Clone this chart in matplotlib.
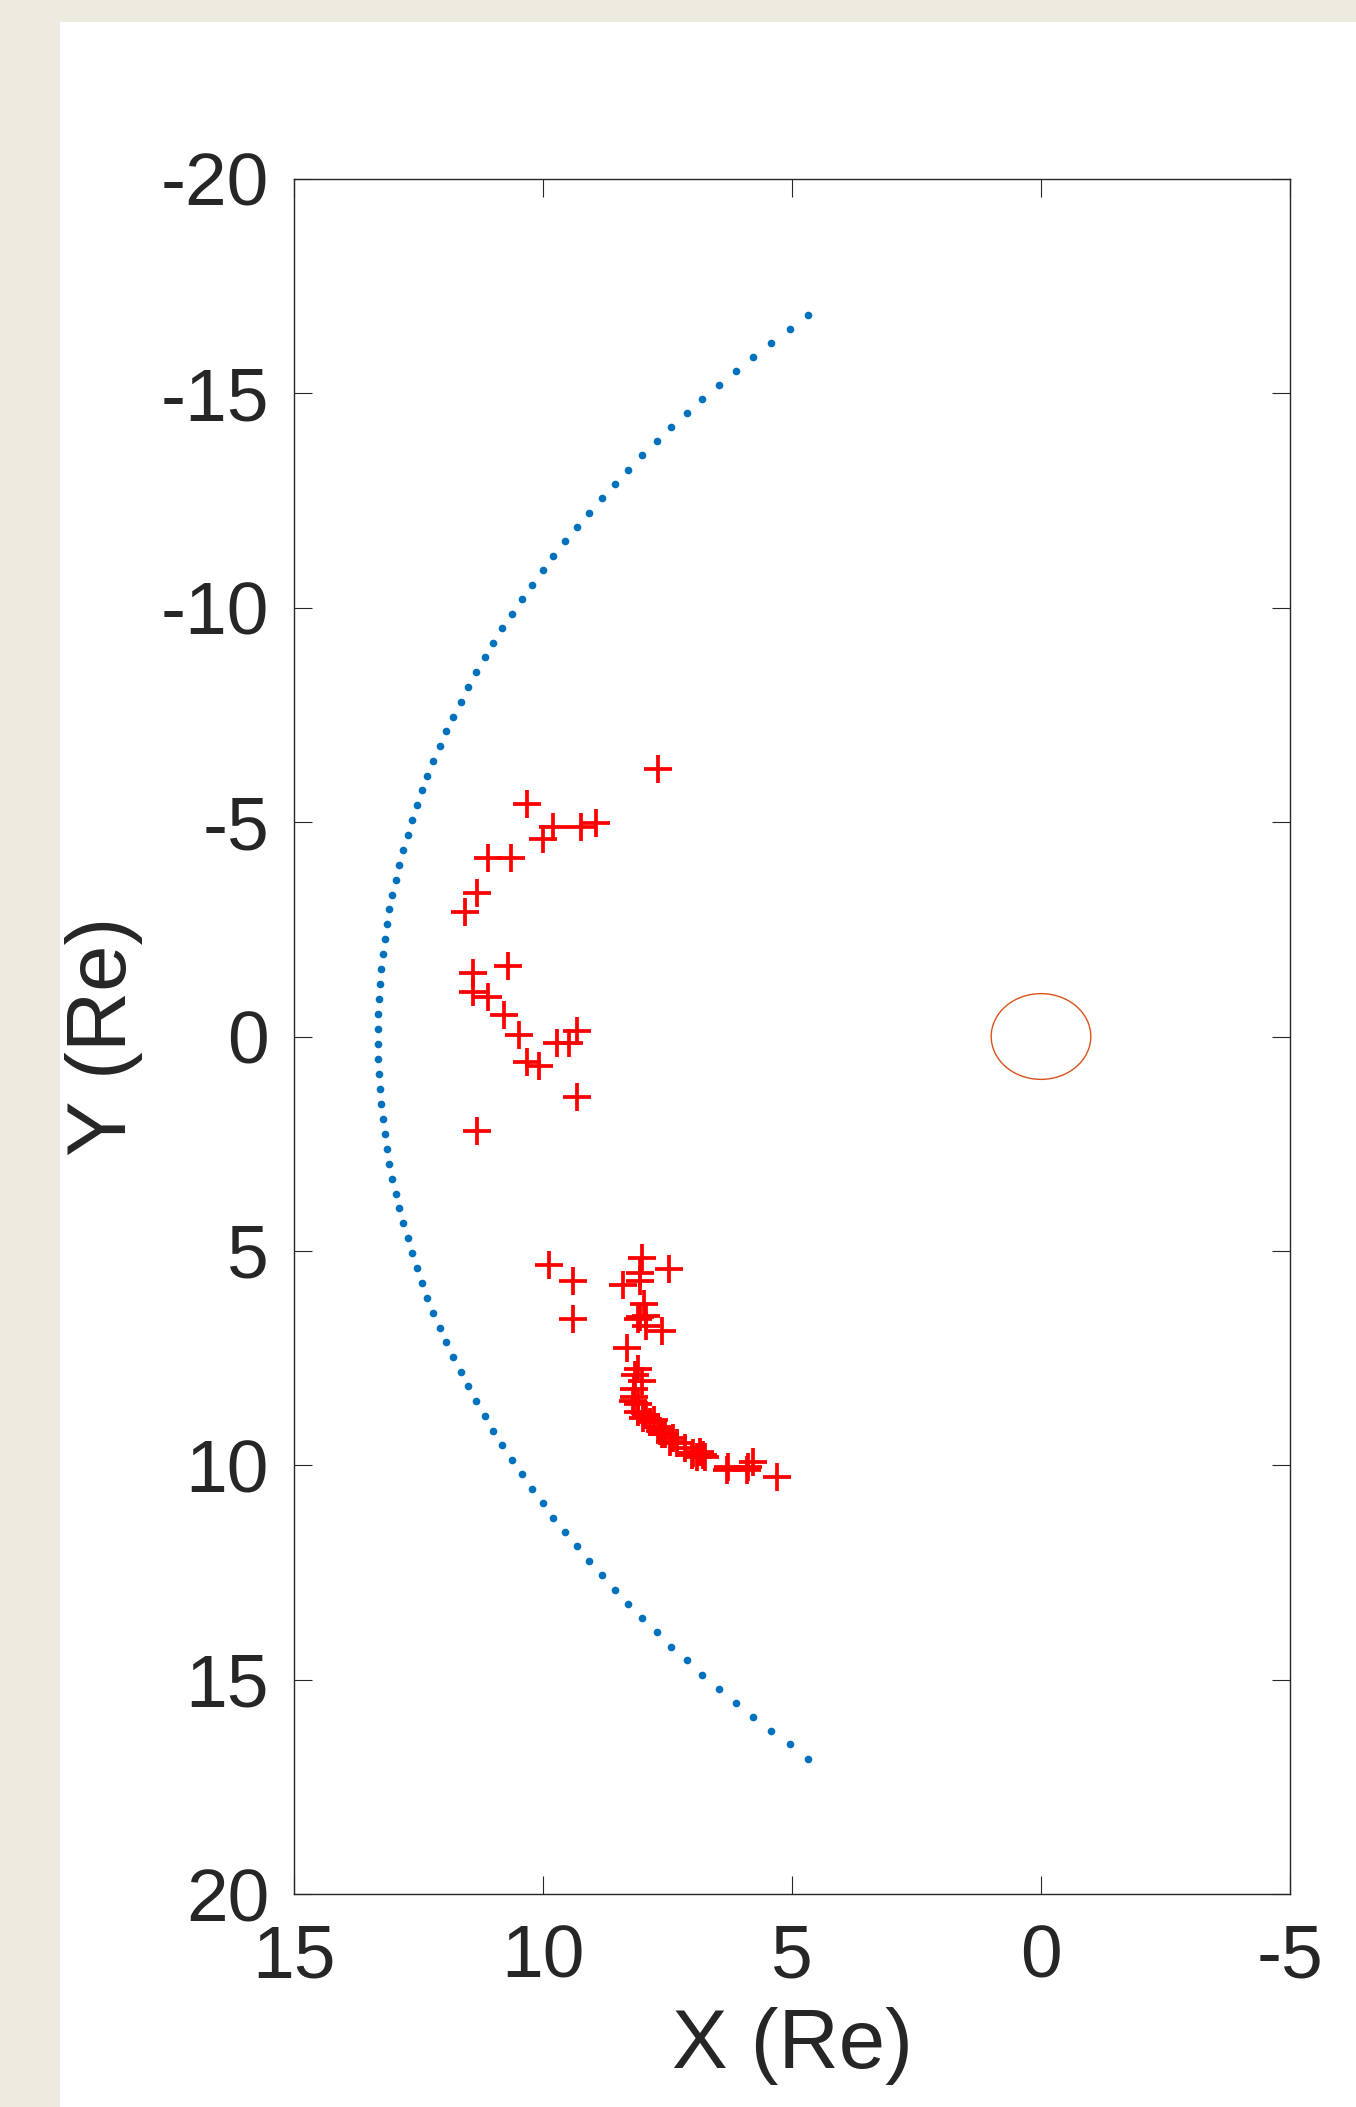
import matplotlib
matplotlib.use("Agg")
import matplotlib.pyplot as plt
from matplotlib.patches import Ellipse, Rectangle

plt.rcParams['font.family'] = ['Liberation Sans', 'DejaVu Sans']

# magnetopause model points (blue dots)
bow_x = [4.68, 5.05, 5.42, 5.78, 6.13, 6.47, 6.80, 7.11, 7.42, 7.72,
         8.01, 8.29, 8.56, 8.82, 9.08, 9.32, 9.56, 9.79, 10.01, 10.22,
         10.43, 10.63, 10.82, 11.00, 11.17, 11.34, 11.50, 11.65, 11.80, 11.94,
         12.07, 12.20, 12.32, 12.43, 12.53, 12.63, 12.72, 12.81, 12.89, 12.96,
         13.03, 13.09, 13.13, 13.18, 13.22, 13.26, 13.28, 13.30, 13.31, 13.32,
         13.32, 13.31, 13.30, 13.28, 13.26, 13.22, 13.18, 13.13, 13.09, 13.03,
         12.96, 12.89, 12.81, 12.72, 12.63, 12.53, 12.43, 12.32, 12.20, 12.07,
         11.94, 11.80, 11.65, 11.50, 11.34, 11.17, 11.00, 10.82, 10.63, 10.43,
         10.22, 10.01, 9.79, 9.56, 9.32, 9.08, 8.82, 8.56, 8.29, 8.01,
         7.72, 7.42, 7.11, 6.80, 6.47, 6.13, 5.78, 5.42, 5.05, 4.68]
bow_y = [-16.83, -16.50, -16.18, -15.86, -15.53, -15.20, -14.88, -14.54, -14.22, -13.89,
         -13.56, -13.22, -12.89, -12.55, -12.22, -11.88, -11.55, -11.21, -10.88, -10.54,
         -10.20, -9.86, -9.52, -9.18, -8.84, -8.49, -8.15, -7.81, -7.46, -7.12,
         -6.78, -6.43, -6.08, -5.74, -5.39, -5.04, -4.70, -4.35, -4.00, -3.66,
         -3.31, -2.97, -2.62, -2.27, -1.92, -1.57, -1.22, -0.87, -0.52, -0.17,
         0.18, 0.53, 0.88, 1.23, 1.58, 1.93, 2.28, 2.63, 2.98, 3.32,
         3.67, 4.01, 4.36, 4.71, 5.05, 5.40, 5.75, 6.09, 6.44, 6.79,
         7.13, 7.47, 7.82, 8.16, 8.50, 8.85, 9.19, 9.53, 9.87, 10.21,
         10.55, 10.89, 11.22, 11.56, 11.89, 12.23, 12.56, 12.90, 13.23, 13.57,
         13.90, 14.23, 14.55, 14.89, 15.21, 15.54, 15.87, 16.19, 16.51, 16.85]

# observed crossings (red +)
cross_x = [7.70, 10.33, 9.79, 10.01, 9.24, 8.94, 11.10, 10.64, 11.33, 11.56,
           10.71, 11.41, 11.41, 11.10, 10.79, 10.48, 9.71, 9.48, 9.32, 10.32,
           10.09, 9.32, 11.33,
           9.87, 9.40, 9.40, 8.01, 7.47, 8.40, 8.05, 8.05, 7.97, 8.05,
           7.93, 8.09, 7.93, 7.62, 8.32, 8.09, 8.01, 8.17, 8.17, 8.09,
           8.09, 7.93, 7.78, 7.70, 7.55, 7.38, 7.31, 6.98, 6.75, 6.28,
           5.88, 5.78, 5.31, 8.15, 8.20, 8.00, 7.85, 7.65, 7.45, 7.15,
           6.90, 6.85, 6.30, 5.90, 7.01, 6.78, 7.62]
cross_y = [-6.23, -5.42, -4.88, -4.61, -4.88, -4.97, -4.16, -4.16, -3.35, -2.90,
           -1.65, -1.47, -1.03, -0.93, -0.49, -0.03, 0.14, 0.14, -0.13, 0.59,
           0.68, 1.40, 2.20,
           5.34, 5.70, 6.60, 5.16, 5.43, 5.80, 5.52, 5.70, 6.24, 6.55,
           6.51, 6.60, 6.76, 6.87, 7.27, 7.76, 8.04, 8.21, 8.40, 8.57,
           8.75, 8.83, 8.94, 9.10, 9.26, 9.37, 9.49, 9.72, 9.80, 10.03,
           10.03, 9.92, 10.27, 7.90, 8.50, 8.90, 9.00, 9.20, 9.45, 9.60,
           9.80, 9.70, 10.12, 10.12, 9.76, 9.76, 9.26]

# earth
earth_x, earth_y, earth_r = 0, 0, 1

xticks = [15, 10, 5, 0, -5]
yticks = [-20, -15, -10, -5, 0, 5, 10, 15, 20]

fig = plt.figure(figsize=(13.56, 21.07), dpi=100, facecolor='#edebe0')
# white slide area behind the axes
fig.patches.append(Rectangle((60 / 1356, 0), 1 - 60 / 1356, 1 - 22 / 2107,
                             transform=fig.transFigure, facecolor='white',
                             edgecolor='none', zorder=-10))

ax = fig.add_axes([294 / 1356, 1 - 1894 / 2107, 996 / 1356, 1715 / 2107])
ax.set_zorder(1)
ax.plot(bow_x, bow_y, 'o', color='#0072bd', markersize=5.5, markeredgewidth=0)
ax.plot(cross_x, cross_y, '+', color='red', markersize=20, markeredgewidth=2.7)
ax.add_patch(Ellipse((earth_x, earth_y), 2 * earth_r, 2 * earth_r, fill=False,
                     edgecolor='#d95319', linewidth=1.0))

ax.set_xlim(15, -5)
ax.set_ylim(20, -20)
ax.set_xticks(xticks)
ax.set_yticks(yticks)
ax.set_xticklabels([str(t) for t in xticks])
ax.set_yticklabels([str(t) for t in yticks])

for s in ax.spines.values():
    s.set_color('#262626')
    s.set_linewidth(1.0)
ax.tick_params(direction='in', length=13, width=0.8, colors='#262626',
               labelsize=54, top=True, right=True)
ax.tick_params(axis='x', pad=21)
ax.tick_params(axis='y', pad=18)

ax.set_xlabel('X (Re)', fontsize=60, color='#262626')
ax.set_ylabel('Y (Re)', fontsize=60, color='#262626')
ax.xaxis.set_label_coords(0.5, -0.066)
ax.yaxis.set_label_coords(-0.152, 0.5)

fig.savefig('out.png', dpi=100, facecolor=fig.get_facecolor())
